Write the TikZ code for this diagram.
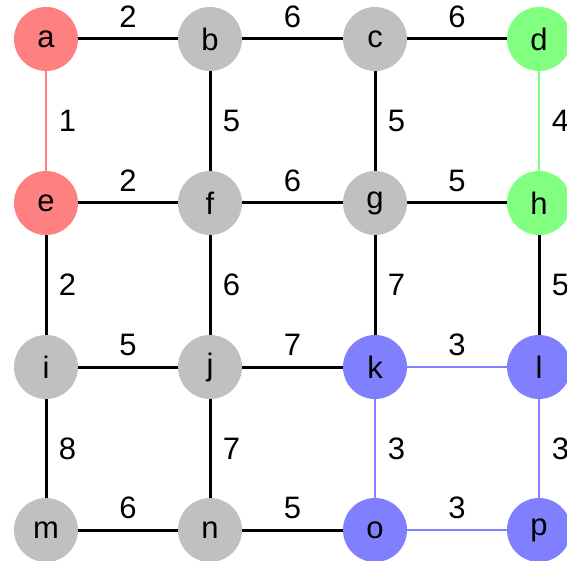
\documentclass[tikz,border=0pt]{standalone}
\usepackage{fontspec}
\setmainfont{Liberation Sans}
\definecolor{nred}{HTML}{FF8080}
\definecolor{ngreen}{HTML}{80FF80}
\definecolor{nblue}{HTML}{8080FF}
\definecolor{ngray}{HTML}{C0C0C0}
\begin{document}
\begin{tikzpicture}[x=1pt,y=-1pt,
  vtx/.style={circle,minimum size=64pt,inner sep=0pt,fill=ngray,font=\fontsize{31}{31}\selectfont},
  blk/.style={draw=black,line width=3pt},
  red/.style={draw=nred,line width=2pt},
  grn/.style={draw=ngreen,line width=2pt},
  blu/.style={draw=nblue,line width=2pt},
  hl/.style={midway,yshift=22.5pt,font=\fontsize{31}{31}\selectfont,inner sep=0pt},
  vl/.style={midway,xshift=21.5pt,font=\fontsize{31}{31}\selectfont,inner sep=0pt}]
\useasboundingbox (0,0) rectangle (567,561);
\def\xa{46}\def\xb{210}\def\xc{375}\def\xd{539}
\def\ya{39}\def\yb{203}\def\yc{367}\def\yd{530}
\node[vtx,fill=nred] (a) at (\xa,\ya) {a};
\node[vtx] (b) at (\xb,\ya) {b};
\node[vtx] (c) at (\xc,\ya) {c};
\node[vtx,fill=ngreen] (d) at (\xd,\ya) {d};
\node[vtx,fill=nred] (e) at (\xa,\yb) {e};
\node[vtx] (f) at (\xb,\yb) {f};
\node[vtx] (g) at (\xc,\yb) {g};
\node[vtx,fill=ngreen] (h) at (\xd,\yb) {h};
\node[vtx] (i) at (\xa,\yc) {i};
\node[vtx] (j) at (\xb,\yc) {j};
\node[vtx,fill=nblue] (k) at (\xc,\yc) {k};
\node[vtx,fill=nblue] (l) at (\xd,\yc) {l};
\node[vtx] (m) at (\xa,\yd) {m};
\node[vtx] (n) at (\xb,\yd) {n};
\node[vtx,fill=nblue] (o) at (\xc,\yd) {o};
\node[vtx,fill=nblue] (p) at (\xd,\yd) {p};
% horizontal edges
\draw[blk] (a) -- node[hl] (lab) {2} (b);
\draw[blk] (b) -- node[hl] (lbc) {6} (c);
\draw[blk] (c) -- node[hl] (lcd) {6} (d);
\draw[blk] (e) -- node[hl] (lef) {2} (f);
\draw[blk] (f) -- node[hl] (lfg) {6} (g);
\draw[blk] (g) -- node[hl] (lgh) {5} (h);
\draw[blk] (i) -- node[hl] (lij) {5} (j);
\draw[blk] (j) -- node[hl] (ljk) {7} (k);
\draw[blu] (k) -- node[hl] (lkl) {3} (l);
\draw[blk] (m) -- node[hl] (lmn) {6} (n);
\draw[blk] (n) -- node[hl] (lno) {5} (o);
\draw[blu] (o) -- node[hl] (lop) {3} (p);
% vertical edges
\draw[red] (a) -- node[vl] (lae) {1} (e);
\draw[blk] (b) -- node[vl] (lbf) {5} (f);
\draw[blk] (c) -- node[vl] (lcg) {5} (g);
\draw[grn] (d) -- node[vl] (ldh) {4} (h);
\draw[blk] (e) -- node[vl] (lei) {2} (i);
\draw[blk] (f) -- node[vl] (lfj) {6} (j);
\draw[blk] (g) -- node[vl] (lgk) {7} (k);
\draw[blk] (h) -- node[vl] (lhl) {5} (l);
\draw[blk] (i) -- node[vl] (lim) {8} (m);
\draw[blk] (j) -- node[vl] (ljn) {7} (n);
\draw[blu] (k) -- node[vl] (lko) {3} (o);
\draw[blu] (l) -- node[vl] (llp) {3} (p);
\end{tikzpicture}
\end{document}
